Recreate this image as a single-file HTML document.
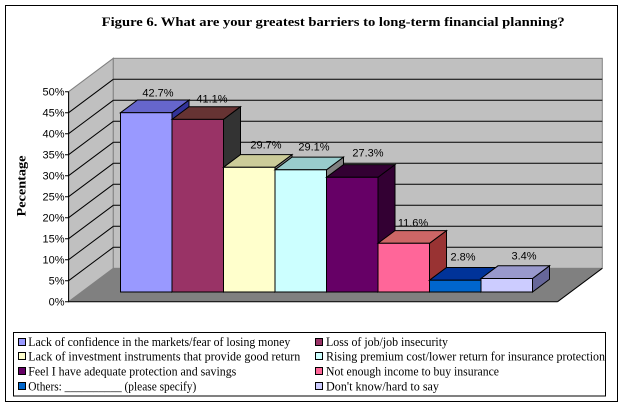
<!DOCTYPE html>
<html>
<head>
<meta charset="utf-8">
<style>
  html, body { margin: 0; padding: 0; background: #ffffff; }
  svg { display: block; }
</style>
</head>
<body>
<svg width="624" height="407" viewBox="0 0 624 407" xmlns="http://www.w3.org/2000/svg">
  <rect x="0" y="0" width="624" height="407" fill="#ffffff"/>
  <!-- outer frame -->
  <rect x="5.5" y="5.5" width="612" height="396" fill="none" stroke="#000" stroke-width="1"/>

  <!-- title -->
  <text x="101.7" y="26" font-family="Liberation Serif, serif" font-weight="bold" font-size="13" textLength="463" lengthAdjust="spacingAndGlyphs">Figure 6. What are your greatest barriers to long-term financial planning?</text>

  <!-- axis title -->
  <text transform="translate(25.5,186) rotate(-90)" text-anchor="middle" font-family="Liberation Serif, serif" font-weight="bold" font-size="13" textLength="61" lengthAdjust="spacingAndGlyphs">Pecentage</text>

  <!-- left wall -->
  <polygon points="68.6,91.7 113.3,58.3 113.3,268.3 68.6,301.7" fill="#C0C0C0" stroke="#808080" stroke-width="1"/>
  <!-- back wall -->
  <rect x="113.3" y="58.3" width="489" height="210" fill="#C0C0C0" stroke="#808080" stroke-width="1"/>
  <!-- floor -->
  <polygon points="68.6,301.7 113.3,268.3 602.3,268.3 557.6,301.7" fill="#808080"/>
  <line x1="68.6" y1="301.7" x2="557.6" y2="301.7" stroke="#000" stroke-width="1"/>
  <line x1="557.6" y1="301.7" x2="602.3" y2="268.3" stroke="#000" stroke-width="1"/>

  <!-- gridlines -->
  <g stroke="#000" stroke-width="1" fill="none">
    <path d="M113.3,79.3H602.3 M113.3,100.3H602.3 M113.3,121.3H602.3 M113.3,142.3H602.3 M113.3,163.3H602.3 M113.3,184.3H602.3 M113.3,205.3H602.3 M113.3,226.3H602.3 M113.3,247.3H602.3"/>
    <path d="M68.6,112.7L113.3,79.3 M68.6,133.7L113.3,100.3 M68.6,154.7L113.3,121.3 M68.6,175.7L113.3,142.3 M68.6,196.7L113.3,163.3 M68.6,217.7L113.3,184.3 M68.6,238.7L113.3,205.3 M68.6,259.7L113.3,226.3 M68.6,280.7L113.3,247.3"/>
    <!-- axis line and ticks -->
    <path d="M68.6,91.7V301.7"/>
    <path d="M65,91.7H68.6 M65,112.7H68.6 M65,133.7H68.6 M65,154.7H68.6 M65,175.7H68.6 M65,196.7H68.6 M65,217.7H68.6 M65,238.7H68.6 M65,259.7H68.6 M65,280.7H68.6 M65,301.7H68.6"/>
  </g>

  <!-- y labels -->
  <g font-family="Liberation Sans, sans-serif" font-size="11" text-anchor="end" fill="#000">
    <text x="64.5" y="95.7">50%</text>
    <text x="64.5" y="116.7">45%</text>
    <text x="64.5" y="137.7">40%</text>
    <text x="64.5" y="158.7">35%</text>
    <text x="64.5" y="179.7">30%</text>
    <text x="64.5" y="200.7">25%</text>
    <text x="64.5" y="221.7">20%</text>
    <text x="64.5" y="242.7">15%</text>
    <text x="64.5" y="263.7">10%</text>
    <text x="64.5" y="284.7">5%</text>
    <text x="64.5" y="305.7">0%</text>
  </g>

  <!-- bars: front, top, side -->
  <g stroke="#000" stroke-width="1" stroke-linejoin="miter">
    <!-- bar 1: 42.7 top 112.7 -->
    <polygon points="172,112.7 189,100 189,279.3 172,292" fill="#333399"/>
    <polygon points="120.5,112.7 137.5,100 189,100 172,112.7" fill="#6666CC"/>
    <rect x="120.5" y="112.7" width="51.5" height="179.3" fill="#9999FF"/>
    <!-- bar 2: 41.1 top 119.4 -->
    <polygon points="223.5,119.4 240.5,106.7 240.5,279.3 223.5,292" fill="#333333"/>
    <polygon points="172,119.4 189,106.7 240.5,106.7 223.5,119.4" fill="#663333"/>
    <rect x="172" y="119.4" width="51.5" height="172.6" fill="#993366"/>
    <!-- bar 3: 29.7 top 167.3 -->
    <polygon points="275,167.3 292,154.6 292,279.3 275,292" fill="#808080"/>
    <polygon points="223.5,167.3 240.5,154.6 292,154.6 275,167.3" fill="#CCCC99"/>
    <rect x="223.5" y="167.3" width="51.5" height="124.7" fill="#FFFFCC"/>
    <!-- bar 4: 29.1 top 169.8 -->
    <polygon points="326.5,169.8 343.5,157.1 343.5,279.3 326.5,292" fill="#808080"/>
    <polygon points="275,169.8 292,157.1 343.5,157.1 326.5,169.8" fill="#99CCCC"/>
    <rect x="275" y="169.8" width="51.5" height="122.2" fill="#CCFFFF"/>
    <!-- bar 5: 27.3 top 177.3 -->
    <polygon points="378,177.3 395,164.6 395,279.3 378,292" fill="#330033"/>
    <polygon points="326.5,177.3 343.5,164.6 395,164.6 378,177.3" fill="#330033"/>
    <rect x="326.5" y="177.3" width="51.5" height="114.7" fill="#660066"/>
    <!-- bar 6: 11.6 top 243.3 -->
    <polygon points="429.5,243.3 446.5,230.6 446.5,279.3 429.5,292" fill="#993333"/>
    <polygon points="378,243.3 395,230.6 446.5,230.6 429.5,243.3" fill="#CC6666"/>
    <rect x="378" y="243.3" width="51.5" height="48.7" fill="#FF6699"/>
    <!-- bar 7: 2.8 top 280.2 -->
    <polygon points="481,280.2 498,267.5 498,279.3 481,292" fill="#003399"/>
    <polygon points="429.5,280.2 446.5,267.5 498,267.5 481,280.2" fill="#003399"/>
    <rect x="429.5" y="280.2" width="51.5" height="11.8" fill="#0066CC"/>
    <!-- bar 8: 3.4 top 278.5 -->
    <polygon points="532.5,278.5 549.5,265.8 549.5,279.3 532.5,292" fill="#666699"/>
    <polygon points="481,278.5 498,265.8 549.5,265.8 532.5,278.5" fill="#9999CC"/>
    <rect x="481" y="278.5" width="51.5" height="13.5" fill="#CCCCFF"/>
  </g>

  <!-- data labels -->
  <g font-family="Liberation Sans, sans-serif" font-size="11" text-anchor="middle" fill="#000">
    <text x="158" y="96.7">42.7%</text>
    <text x="212" y="102.3">41.1%</text>
    <text x="266" y="148.3">29.7%</text>
    <text x="314" y="150.7">29.1%</text>
    <text x="368" y="156.3">27.3%</text>
    <text x="413" y="226.3">11.6%</text>
    <text x="463" y="260.7">2.8%</text>
    <text x="524" y="259.7">3.4%</text>
  </g>

  <!-- legend -->
  <rect x="13.5" y="332.5" width="592" height="63.5" fill="#fff" stroke="#000" stroke-width="1"/>
  <g stroke="#000" stroke-width="1">
    <rect x="18.5" y="338.5" width="7" height="7" fill="#9999FF"/>
    <rect x="18.5" y="352.5" width="7" height="7" fill="#FFFFCC"/>
    <rect x="18.5" y="367.5" width="7" height="7" fill="#660066"/>
    <rect x="18.5" y="382.5" width="7" height="7" fill="#0066CC"/>
    <rect x="315.5" y="338.5" width="7" height="7" fill="#993366"/>
    <rect x="315.5" y="352.5" width="7" height="7" fill="#CCFFFF"/>
    <rect x="315.5" y="367.5" width="7" height="7" fill="#FF6699"/>
    <rect x="315.5" y="382.5" width="7" height="7" fill="#CCCCFF"/>
  </g>
  <g font-family="Liberation Serif, serif" font-size="12.5" fill="#000">
    <text x="28.3" y="346" textLength="262" lengthAdjust="spacingAndGlyphs">Lack of confidence in the markets/fear of losing money</text>
    <text x="28.3" y="360.5" textLength="272" lengthAdjust="spacingAndGlyphs">Lack of investment instruments that provide good return</text>
    <text x="28.3" y="375.5" textLength="208" lengthAdjust="spacingAndGlyphs">Feel I have adequate protection and savings</text>
    <text x="28.3" y="390.5" textLength="168" lengthAdjust="spacingAndGlyphs">Others: __________ (please specify)</text>
    <text x="326" y="346" textLength="122" lengthAdjust="spacingAndGlyphs">Loss of job/job insecurity</text>
    <text x="326" y="360.5" textLength="279" lengthAdjust="spacingAndGlyphs">Rising premium cost/lower return for insurance protection</text>
    <text x="326" y="375.5" textLength="173" lengthAdjust="spacingAndGlyphs">Not enough income to buy insurance</text>
    <text x="326" y="390.5" textLength="113" lengthAdjust="spacingAndGlyphs">Don't know/hard to say</text>
  </g>
</svg>
</body>
</html>
